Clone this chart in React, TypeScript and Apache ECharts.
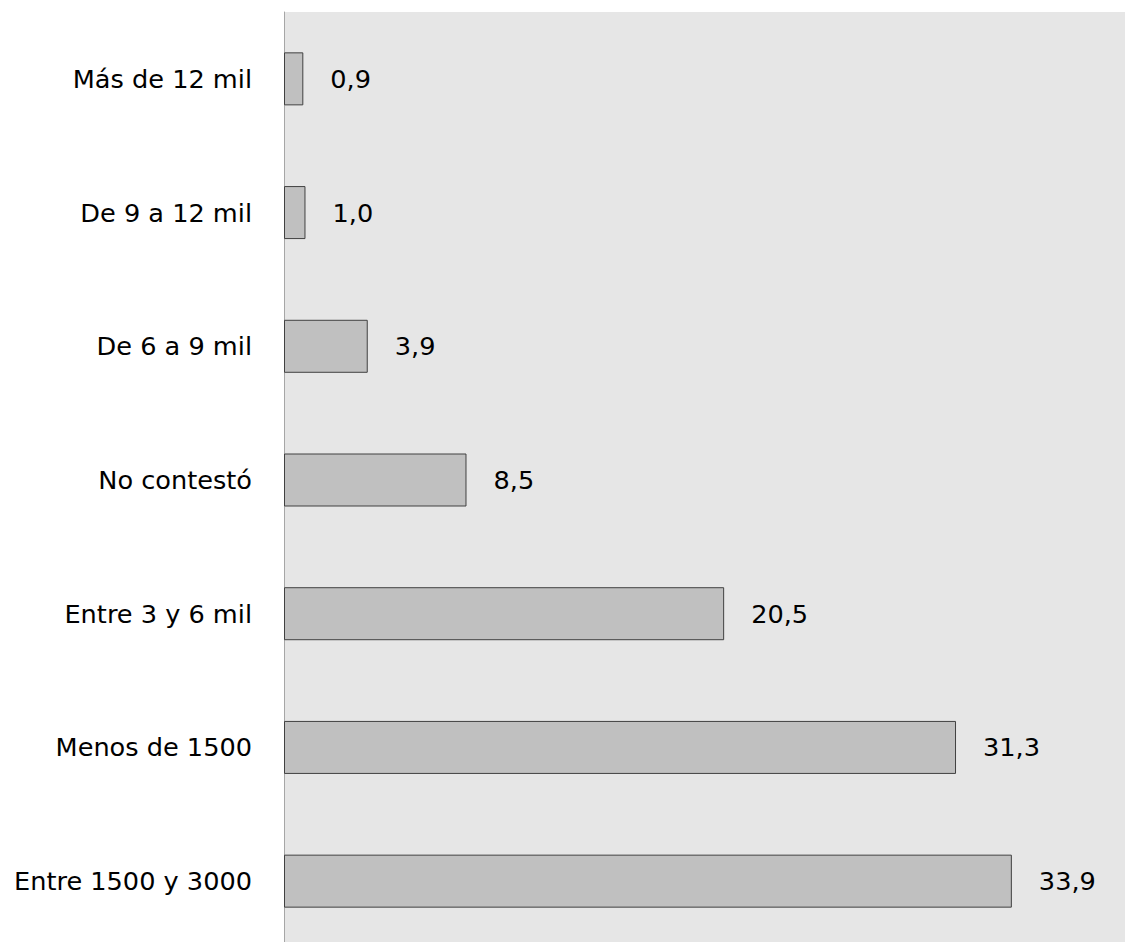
import React, { useEffect, useRef } from "react";
import * as echarts from "echarts";

const categories = [
  "Entre 1500 y 3000",
  "Menos de 1500",
  "Entre 3 y 6 mil",
  "No contestó",
  "De 6 a 9 mil",
  "De 9 a 12 mil",
  "Más de 12 mil",
];
const values = [33.9, 31.3, 20.5, 8.5, 3.9, 1.0, 0.9];

const FONT = "'DejaVu Sans', sans-serif";

export default function App() {
  const ref = useRef<HTMLDivElement>(null);
  useEffect(() => {
    if (!ref.current) return;
    const chart = echarts.init(ref.current, undefined, { renderer: "svg" });
    chart.setOption({
      animation: false,
      grid: {
        left: 284,
        top: 12,
        right: 0,
        height: 936,
        show: true,
        backgroundColor: "#e6e6e6",
        borderWidth: 0,
        containLabel: false,
      },
      xAxis: {
        type: "value",
        min: 0,
        max: 39.17,
        show: false,
      },
      yAxis: {
        type: "category",
        data: categories,
        axisLine: { show: true, lineStyle: { color: "#a6a6a6", width: 1 } },
        axisTick: { show: false },
        axisLabel: {
          color: "#000",
          fontSize: 25.6,
          fontFamily: FONT,
          margin: 32,
        },
        splitLine: { show: false },
      },
      series: [
        {
          type: "bar",
          data: values,
          barWidth: 53,
          itemStyle: {
            color: "#c0c0c0",
            borderColor: "#404040",
            borderWidth: 1,
          },
          label: {
            show: true,
            position: "right",
            distance: 27,
            color: "#000",
            fontSize: 25.6,
            fontFamily: FONT,
            formatter: (p: any) => Number(p.value).toFixed(1).replace(".", ","),
          },
        },
      ],
    });
    return () => chart.dispose();
  }, []);
  return (
    <div
      style={{
        position: "absolute",
        left: 0,
        top: 0,
        width: 1125,
        height: 942,
        overflow: "hidden",
      }}
    >
      <div ref={ref} style={{ width: 1125, height: 950 }} />
    </div>
  );
}
